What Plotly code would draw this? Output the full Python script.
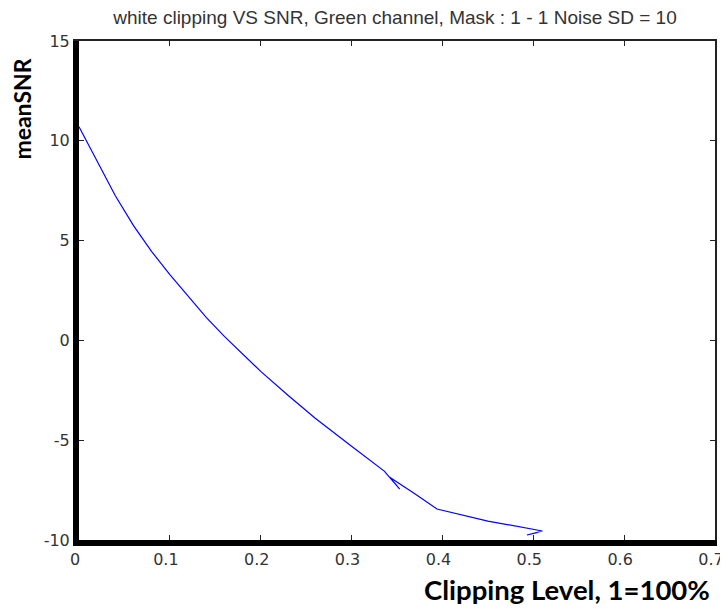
import plotly.graph_objects as go

clip_level = [0.0, 0.02, 0.04, 0.06, 0.08, 0.1, 0.12, 0.14, 0.16, 0.18, 0.2, 0.23,
              0.26, 0.3, 0.336, 0.353, 0.342, 0.37, 0.394, 0.45, 0.51, 0.493, 0.505]
mean_snr = [10.7, 8.95, 7.25, 5.75, 4.45, 3.3, 2.2, 1.15, 0.2, -0.7, -1.55, -2.75,
            -3.9, -5.3, -6.55, -7.45, -6.85, -7.7, -8.45, -9.05, -9.55, -9.75, -9.62]

x_ticks = [0, 0.1, 0.2, 0.3, 0.4, 0.5, 0.6, 0.7]
x_tick_text = ["0", "0.1", "0.2", "0.3", "0.4", "0.5", "0.6", "0.7"]
y_ticks = [-10, -5, 0, 5, 10, 15]
y_tick_text = ["-10", "-5", "0", "5", "10", "15"]

title_text = "white clipping VS SNR, Green channel, Mask : 1 - 1 Noise SD = 10"
x_label = "Clipping Level, 1=100%"
y_label = "meanSNR"

fig = go.Figure()
fig.add_trace(go.Scatter(x=clip_level, y=mean_snr, mode="lines",
                         line=dict(color="#0000ff", width=1.2), showlegend=False))
# empty trace to activate mirrored (top/right) axes
fig.add_trace(go.Scatter(x=[], y=[], xaxis="x2", yaxis="y2", showlegend=False))

tick_font = dict(family="DejaVu Sans, sans-serif", size=16, color="#333333")

common = dict(showgrid=False, zeroline=False, showline=True, automargin=False,
              ticks="inside", ticklen=5, tickwidth=1, tickcolor="#222")

# page body has an 8px default margin, so the figure is sized 8px smaller
fig.update_layout(
    width=720, height=601,
    margin=dict(l=71, r=13, t=33, b=69),
    paper_bgcolor="white", plot_bgcolor="white",
    title=dict(text=title_text, x=0.5375, xanchor="center", y=0.985, yanchor="middle",
               font=dict(family="Liberation Sans, Arial, sans-serif",
                         size=19, color="#333333")),
    xaxis=dict(range=[0, 0.7], tickvals=x_ticks, ticktext=x_tick_text,
               ticklabeloverflow="allow", ticklabelshift=-4,
               linewidth=6, linecolor="black", tickfont=tick_font, **common),
    yaxis=dict(range=[-10, 15], tickvals=y_ticks, ticktext=y_tick_text,
               ticklabeloverflow="allow",
               linewidth=6, linecolor="black", tickfont=tick_font, **common),
    xaxis2=dict(range=[0, 0.7], tickvals=x_ticks, overlaying="x", side="top", anchor="y2",
                linewidth=1.5, linecolor="#222", showticklabels=False, **common),
    yaxis2=dict(range=[-10, 15], tickvals=y_ticks, overlaying="y", side="right", anchor="x2",
                linewidth=2, linecolor="#222", showticklabels=False, **common),
    annotations=[
        dict(text="<b>" + y_label + "</b>", xref="paper", yref="paper", x=-0.09, y=0.864,
             xanchor="center", yanchor="middle", textangle=-90, showarrow=False,
             font=dict(family="Lato, Open Sans, sans-serif", size=23, color="black")),
        dict(text="<b>" + x_label + "</b>", xref="paper", yref="paper", x=0.995, y=-0.1,
             xanchor="right", yanchor="middle", showarrow=False,
             font=dict(family="Lato, Open Sans, sans-serif", size=27.5, color="black")),
    ],
)

fig.write_html("out.html")
